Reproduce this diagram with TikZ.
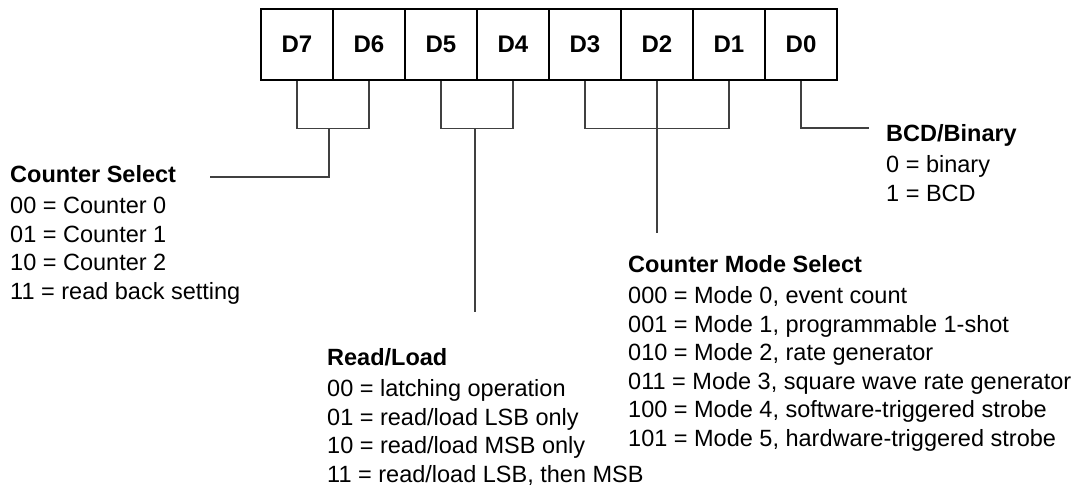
\documentclass[tikz,border=0pt]{standalone}
\usepackage{fontspec}
\setmainfont{Liberation Sans}
\tikzset{
  bit/.style={draw, line width=1.6pt, minimum width=72pt, minimum height=71pt, inner sep=0pt,
    font=\fontsize{24}{28}\selectfont\bfseries},
  link/.style={draw=black!75, line width=1.2pt},
  legend/.style={align=left, anchor=north west, inner sep=0pt,
    font=\fontsize{23.5}{28.5}\selectfont},
}
\begin{document}
\begin{tikzpicture}[x=1pt,y=-1pt]
\useasboundingbox (0,0) rectangle (1086,490);
%
\foreach \i [count=\k from 0] in {7,...,0}
  \node[bit] (b\i) at (297+72*\k,44.5) {D\i};
%
\coordinate (k76) at (329,128);
\coordinate (k54) at (475,128);
\coordinate (csend) at (210,177);
\coordinate (rlend) at (475,312);
\coordinate (cmend) at (657,233);
\coordinate (bcdend) at (869,128);
%
\draw[link] (b7.south) -- ++(0,48) -| (b6.south);
\draw[link] (k76) |- (csend);
\draw[link] (b5.south) -- ++(0,48) -| (b4.south);
\draw[link] (k54) -- (rlend);
\draw[link] (b3.south) -- ++(0,48) -| (b1.south);
\draw[link] (b2.south) -- (cmend);
\draw[link] (b0.south) |- (bcdend);
%
\node[legend] (cs) at (10,165) {\textbf{Counter Select}\\[3pt]
  00 = Counter 0\\ 01 = Counter 1\\ 10 = Counter 2\\ 11 = read back setting};
\node[legend] (rl) at (327,348) {\textbf{Read/Load}\\[3pt]
  00 = latching operation\\ 01 = read/load LSB only\\ 10 = read/load MSB only\\
  11 = read/load LSB, then MSB};
\node[legend] (cm) at (628,255) {\textbf{Counter Mode Select}\\[3pt]
  000 = Mode 0, event count\\ 001 = Mode 1, programmable 1-shot\\
  010 = Mode 2, rate generator\\ 011 = Mode 3, square wave rate generator\\
  100 = Mode 4, software-triggered strobe\\ 101 = Mode 5, hardware-triggered strobe};
\node[legend] (bcd) at (886,124) {\textbf{BCD/Binary}\\[3pt] 0 = binary\\ 1 = BCD};
%
\end{tikzpicture}
\end{document}
